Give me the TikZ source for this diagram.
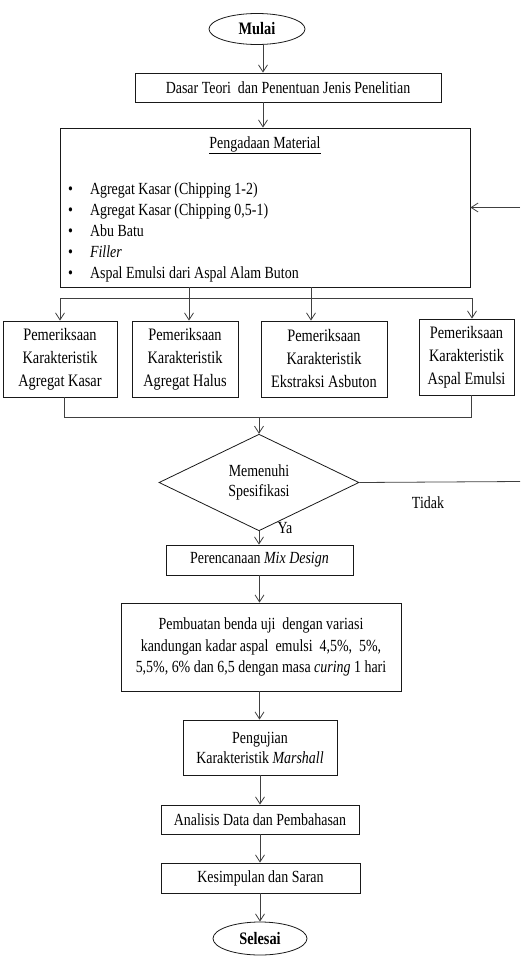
\documentclass[tikz,border=0pt]{standalone}
\usepackage{fontspec}
\setmainfont{Liberation Serif}[FakeStretch=0.82]
\usetikzlibrary{shapes.geometric,arrows.meta}
\begin{document}
\begin{tikzpicture}[x=1pt,y=-1pt,
  every node/.style={font=\fontsize{17}{21}\selectfont},
  box/.style={draw=black!90,line width=0.8pt,inner sep=0pt,align=center},
  term/.style={draw=black!90,line width=0.8pt,ellipse,inner sep=0pt,font=\fontsize{17.5}{21}\selectfont\bfseries},
  line/.style={draw=black!75,line width=0.8pt},
  arr/.style={line,-{Straight Barb[length=7pt,width=9pt]}},
  lbl/.style={inner sep=0pt}
]
\useasboundingbox (0,0) rectangle (520,956);

% axis coordinates
\coordinate (axA) at (263,0);
\coordinate (tB2) at (189,0);
\coordinate (tB3) at (311,0);
\coordinate (busL) at (60,298);
\coordinate (busR) at (472,298);
\coordinate (jL) at (64,417);
\coordinate (jR) at (471,417);
\coordinate (jM) at (259,417);
\coordinate (rT) at (520,207.5);
\coordinate (rB) at (520,481.5);

% nodes
\node[term,minimum width=96pt,minimum height=31pt] (mulai) at (257,29) {Mulai};
\node[box,minimum width=306pt,minimum height=29pt] (dasar) at (288,87.5) {Dasar Teori\ \ dan Penentuan Jenis Penelitian};
\node[box,minimum width=410pt,minimum height=159pt] (peng) at (265,207.5) {};
\node[lbl] (pengT) at (265,145) {\underline{Pengadaan Material}};
\node[lbl,anchor=north west] (list) at (68,180) {\begin{tabular}{@{}l@{\hspace{17pt}}l@{}}
\textbullet & Agregat Kasar (Chipping 1-2)\\
\textbullet & Agregat Kasar (Chipping 0,5-1)\\
\textbullet & Abu Batu\\
\textbullet & \textit{Filler}\\
\textbullet & Aspal Emulsi dari Aspal Alam Buton
\end{tabular}};

\node[box,font=\fontsize{17.5}{23}\selectfont,minimum width=114pt,minimum height=76pt] (b1) at (60,359) {Pemeriksaan\\Karakteristik\\Agregat Kasar};
\node[box,font=\fontsize{17.5}{23}\selectfont,minimum width=106pt,minimum height=76pt] (b2) at (185,359) {Pemeriksaan\\Karakteristik\\Agregat Halus};
\node[box,font=\fontsize{17.5}{23}\selectfont,minimum width=126pt,minimum height=76pt] (b3) at (324,359) {Pemeriksaan\\Karakteristik\\Ekstraksi Asbuton};
\node[box,font=\fontsize{17.5}{23}\selectfont,minimum width=95pt,minimum height=76pt] (b4) at (466.5,357) {Pemeriksaan\\Karakteristik\\Aspal Emulsi};

\node[diamond,draw=black!90,line width=0.8pt,inner sep=0pt,align=center,font=\fontsize{17}{20}\selectfont,
      minimum width=200pt,minimum height=67pt] (spec) at (259,482.5) {Memenuhi\\Spesifikasi};
\node[lbl] (tidak) at (428,503) {Tidak};
\node[lbl] (ya) at (285,528) {Ya};

\node[box,minimum width=187pt,minimum height=30pt] (plan) at (259.5,560) {Perencanaan \textit{Mix Design}};
\node[box,font=\fontsize{17}{21.5}\selectfont,minimum width=280pt,minimum height=88pt] (pemb) at (261,647)
  {Pembuatan benda uji\ \ dengan variasi\\kandungan kadar aspal\ \ emulsi\ \ 4,5\%,\ \ 5\%,\\5,5\%, 6\% dan 6,5 dengan masa \textit{curing} 1 hari};
\node[box,font=\fontsize{17}{20}\selectfont,minimum width=154pt,minimum height=55pt] (uji) at (260,747.5) {Pengujian\\Karakteristik \textit{Marshall}};
\node[box,minimum width=198pt,minimum height=29pt] (anal) at (260,819.5) {Analisis Data dan Pembahasan};
\node[box,minimum width=199pt,minimum height=30pt] (kes) at (260.5,878) {Kesimpulan dan Saran};
\node[term,minimum width=94pt,minimum height=33pt] (sel) at (260,938.5) {Selesai};

% connectors
\draw[arr] (mulai.south -| axA) -- (dasar.north -| axA);
\draw[arr] (dasar.south -| axA) -- (peng.north -| axA);
\draw[line] (busL) -- (busR);
\draw[arr] (busL) -- (busL |- b1.north);
\draw[arr] (busR) -- (busR |- b4.north);
\draw[arr] (peng.south -| tB2) -- (tB2 |- b2.north);
\draw[arr] (peng.south -| tB3) -- (tB3 |- b3.north);
\draw[line] (jL |- b1.south) -- (jL) -- (jR) -- (jR |- b4.south);
\draw[arr] (jM) -- (spec.north);
\draw[line] (spec.east) -- (rB);
\draw[arr] (rT) -- (peng.east);
\draw[arr] (spec.south) -- (plan.north -| spec.south);
\draw[arr] (plan.south) -- (plan.south |- pemb.north);
\draw[arr] (plan.south |- pemb.south) -- (plan.south |- uji.north);
\draw[arr] (uji.south) -- (anal.north);
\draw[arr] (anal.south) -- (anal.south |- kes.north);
\draw[arr] (anal.south |- kes.south) -- (anal.south |- sel.north);
\end{tikzpicture}
\end{document}
